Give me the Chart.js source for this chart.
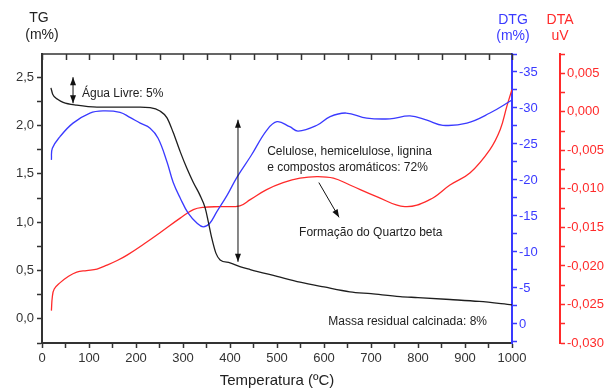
<!DOCTYPE html>
<html>
<head>
<meta charset="utf-8">
<script src="https://cdn.jsdelivr.net/npm/chart.js@4.4.0/dist/chart.umd.min.js"></script>
<style>
  body { margin: 0; background: #fff; }
  canvas { display: block; }
</style>
</head>
<body>
<canvas id="myChart" width="609" height="392"></canvas>
<script>
// TG (m%) - curva preta, eixo da esquerda
const tempTG = [19, 23, 34, 45, 74, 117, 160, 209, 230, 251, 266, 279, 294, 308, 322, 336, 347, 354, 361, 370, 379, 400, 421, 443, 500, 549, 600, 655, 700, 762, 800, 868, 930, 1000];
const valuesTG = [2.39, 2.32, 2.27, 2.24, 2.21, 2.19, 2.19, 2.19, 2.185, 2.15, 2.08, 1.93, 1.73, 1.56, 1.41, 1.28, 1.15, 1.00, 0.84, 0.68, 0.61, 0.58, 0.54, 0.51, 0.44, 0.38, 0.33, 0.28, 0.26, 0.23, 0.22, 0.20, 0.18, 0.145];

// DTG (m%) - curva azul, eixo invertido
const tempDTG = [20, 22, 38, 66, 102, 130, 166, 187, 209, 230, 247, 266, 279, 294, 311, 330, 343, 357, 372, 394, 415, 445, 478, 500, 527, 545, 585, 613, 647, 691, 740, 783, 819, 853, 904, 953, 1000];
const valuesDTG = [-22.8, -24.4, -26.0, -27.9, -29.3, -29.6, -29.4, -28.7, -27.9, -27.2, -25.8, -22.5, -19.7, -17.5, -15.4, -14.0, -13.5, -14.0, -15.6, -17.9, -20.4, -23.4, -26.9, -28.1, -27.4, -26.8, -27.6, -28.8, -29.3, -28.6, -28.5, -28.9, -28.3, -27.6, -27.9, -29.3, -31.1];

// DTA (uV) - curva vermelha
const tempDTA = [20, 22, 26, 38, 55, 74, 95, 117, 138, 160, 181, 223, 251, 294, 322, 343, 380, 421, 443, 478, 513, 549, 585, 620, 655, 712, 772, 825, 868, 911, 953, 975, 989, 1000];
const valuesDTA = [-0.0258, -0.0240, -0.0230, -0.0222, -0.0214, -0.0208, -0.0206, -0.0204, -0.0199, -0.0193, -0.0186, -0.0169, -0.0157, -0.0138, -0.0127, -0.0124, -0.0123, -0.0122, -0.0114, -0.0101, -0.0092, -0.0086, -0.0084, -0.0086, -0.0095, -0.0110, -0.0123, -0.0114, -0.0095, -0.0079, -0.0049, -0.0023, 0.0007, 0.0029];

const tempTicks = [0, 100, 200, 300, 400, 500, 600, 700, 800, 900, 1000];

const BLACK = '#1e1e1e';
const BLUE = '#3a3aff';
const RED = '#ff2a2a';
const FONT = "'Liberation Sans', Arial, sans-serif";

const isMultiple = (v, step) => Math.abs(v / step - Math.round(v / step)) < 1e-6;
const toPoints = (xs, ys) => xs.map((x, i) => ({x: x, y: ys[i]}));

// textos e setas, em coordenadas dos dados (temperatura, TG)
const notes = [
  {text: 'Água Livre: 5%', t: 85, v: 2.33},
  {text: 'Celulose, hemicelulose, lignina', t: 479, v: 1.73},
  {text: 'e compostos aromáticos: 72%', t: 479, v: 1.56},
  {text: 'Formação do Quartzo beta', t: 547, v: 0.89},
  {text: 'Massa residual calcinada: 8%', t: 609, v: -0.03}
];
const arrows = [
  {t1: 66, v1: 2.50, t2: 66, v2: 2.23, both: true},
  {t1: 417, v1: 2.06, t2: 417, v2: 0.59, both: true},
  {t1: 589, v1: 1.41, t2: 632, v2: 1.05, both: false}
];

function arrowHead(ctx, x1, y1, x2, y2) {
  const a = Math.atan2(y2 - y1, x2 - x1);
  const len = 8, w = 3;
  ctx.beginPath();
  ctx.moveTo(x2, y2);
  ctx.lineTo(x2 - len * Math.cos(a) + w * Math.sin(a), y2 - len * Math.sin(a) - w * Math.cos(a));
  ctx.lineTo(x2 - len * Math.cos(a) - w * Math.sin(a), y2 - len * Math.sin(a) + w * Math.cos(a));
  ctx.closePath();
  ctx.fill();
}

const extras = {
  id: 'extras',
  afterDraw(chart) {
    const {ctx, chartArea, scales} = chart;
    const x = scales.x, y = scales.y;
    ctx.save();

    // eixo de cima com marcas para dentro
    ctx.strokeStyle = '#333';
    ctx.lineWidth = 1.5;
    ctx.beginPath();
    ctx.moveTo(chartArea.left, chartArea.top);
    ctx.lineTo(chartArea.right, chartArea.top);
    x.ticks.forEach(t => {
      const px = Math.round(x.getPixelForValue(t.value)) + 0.5;
      ctx.moveTo(px, chartArea.top);
      ctx.lineTo(px, chartArea.top + 6);
    });
    ctx.stroke();

    // titulos dos eixos verticais
    ctx.font = '14px ' + FONT;
    ctx.textAlign = 'center';
    ctx.textBaseline = 'middle';
    ctx.fillStyle = '#222';
    ctx.fillText('TG', 39, 18);
    ctx.fillText('(m%)', 42, 35);
    ctx.fillStyle = BLUE;
    ctx.fillText('DTG', 513, 20);
    ctx.fillText('(m%)', 513, 36);
    ctx.fillStyle = RED;
    ctx.fillText('DTA', 560, 20);
    ctx.fillText('uV', 560, 36);

    // anotacoes
    ctx.fillStyle = '#222';
    ctx.font = '12px ' + FONT;
    ctx.textAlign = 'left';
    notes.forEach(n => ctx.fillText(n.text, x.getPixelForValue(n.t), y.getPixelForValue(n.v)));

    ctx.strokeStyle = '#111';
    ctx.fillStyle = '#111';
    ctx.lineWidth = 1;
    arrows.forEach(a => {
      const x1 = x.getPixelForValue(a.t1), y1 = y.getPixelForValue(a.v1);
      const x2 = x.getPixelForValue(a.t2), y2 = y.getPixelForValue(a.v2);
      ctx.beginPath();
      ctx.moveTo(x1, y1);
      ctx.lineTo(x2, y2);
      ctx.stroke();
      arrowHead(ctx, x1, y1, x2, y2);
      if (a.both) arrowHead(ctx, x2, y2, x1, y1);
    });
    ctx.restore();
  }
};

const ctx = document.getElementById('myChart');
new Chart(ctx, {
  type: 'line',
  data: {
    datasets: [
      {label: 'TG', data: toPoints(tempTG, valuesTG), yAxisID: 'y', borderColor: BLACK, borderWidth: 1.3, pointRadius: 0, cubicInterpolationMode: 'monotone', fill: false},
      {label: 'DTG', data: toPoints(tempDTG, valuesDTG), yAxisID: 'yDTG', borderColor: BLUE, borderWidth: 1.3, pointRadius: 0, tension: 0.4, fill: false},
      {label: 'DTA', data: toPoints(tempDTA, valuesDTA), yAxisID: 'yDTA', borderColor: RED, borderWidth: 1.3, pointRadius: 0, tension: 0.4, fill: false}
    ]
  },
  options: {
    responsive: false,
    animation: false,
    events: [],
    layout: {padding: {top: 54, left: 0, right: 0, bottom: 0}},
    plugins: {legend: {display: false}, tooltip: {enabled: false}},
    scales: {
      x: {
        type: 'linear', position: 'bottom', min: 0, max: 1000,
        afterFit: s => { s.height = 49; },
        border: {color: '#333', width: 2},
        grid: {drawOnChartArea: false, color: '#333', tickLength: 5, tickWidth: 1.5},
        ticks: {
          stepSize: 50, autoSkip: false, maxRotation: 0, padding: 3, color: '#333',
          font: {family: FONT, size: 13},
          callback: v => tempTicks.includes(v) ? String(v) : ''
        },
        title: {display: true, text: 'Temperatura (ºC)', color: '#222', font: {family: FONT, size: 15}, padding: {top: 0, bottom: 2}}
      },
      y: {
        position: 'left', min: -0.25, max: 2.74,
        afterFit: s => { s.width = 42; },
        border: {color: '#333', width: 2},
        grid: {drawOnChartArea: false, color: '#333', tickLength: 5, tickWidth: 1.5},
        ticks: {
          stepSize: 0.25, autoSkip: false, padding: 3, color: '#333', includeBounds: false,
          font: {family: FONT, size: 13},
          callback: v => isMultiple(v, 0.5) ? v.toFixed(1).replace('.', ',') : ''
        }
      },
      yDTG: {
        position: 'right', reverse: true, min: -37.5, max: 2.64,
        afterFit: s => { s.width = 48; },
        border: {color: BLUE, width: 2},
        grid: {drawOnChartArea: false, color: BLUE, tickLength: 5, tickWidth: 1.5},
        ticks: {
          stepSize: 2.5, autoSkip: false, padding: 2, color: BLUE, includeBounds: false,
          font: {family: FONT, size: 13},
          callback: v => isMultiple(v, 5) ? String(Math.round(v)) : ''
        }
      },
      yDTA: {
        position: 'right', min: -0.030, max: 0.0075,
        afterFit: s => { s.width = 49; },
        border: {color: RED, width: 2},
        grid: {drawOnChartArea: false, color: RED, tickLength: 5, tickWidth: 1.5},
        ticks: {
          stepSize: 0.0025, autoSkip: false, padding: 2, color: RED, includeBounds: false,
          font: {family: FONT, size: 13},
          callback: v => {
            if (!isMultiple(v, 0.005)) return '';
            let r = Math.round(v * 1000) / 1000;
            if (r === 0) r = 0;
            return r.toFixed(3).replace('.', ',');
          }
        }
      }
    }
  },
  plugins: [extras]
});
</script>
</body>
</html>
